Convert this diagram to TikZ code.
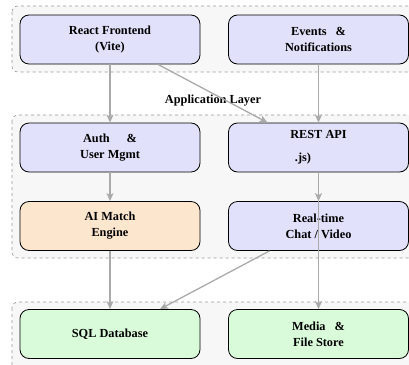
\documentclass[tikz,border=0pt]{standalone}
\usepackage{fontspec}
\setmainfont{Liberation Serif}
\usetikzlibrary{arrows.meta}
\definecolor{svcblue}{HTML}{E1E1FB}
\definecolor{aiorange}{HTML}{FDE6CE}
\definecolor{storegreen}{HTML}{D9FBD9}
\definecolor{layerfill}{HTML}{F7F7F7}
\definecolor{layerline}{HTML}{9A9A9A}
\definecolor{flow}{HTML}{AAAAAA}
\tikzset{
  layer/.style={draw=layerline, fill=layerfill, dashed, line width=0.6pt, rounded corners=6pt},
  box/.style={draw=black, line width=0.8pt, rounded corners=9pt,
    minimum width=180pt, minimum height=49pt, align=center,
    font=\fontsize{12.3}{16}\selectfont\bfseries, inner sep=0pt},
  svc/.style={box, fill=svcblue},
  ai/.style={box, fill=aiorange},
  store/.style={box, fill=storegreen},
  flowline/.style={draw=flow, line width=1.3pt,
    -{Stealth[length=8pt, width=7pt, inset=2pt]}},
  lbl/.style={font=\fontsize{12.3}{15}\selectfont\bfseries}
}
\begin{document}
\begin{tikzpicture}[x=1pt, y=-1pt]
\useasboundingbox (0,0) rectangle (409,364);
\clip (0,0) rectangle (409,364);
% layer backgrounds
\draw[layer] (12,6) rectangle (430,72);
\draw[layer] (12,115) rectangle (430,258);
\draw[layer] (12,302) rectangle (430,400);
\node[lbl] (applbl) at (213,101) {Application Layer};
% components
\node[svc] (react) at (110,39.5) {React Frontend\\(Vite)};
\node[svc] (events) at (318.5,39.5) {Events\hspace{9pt}\&\\Notifications};
\node[svc] (auth) at (110,147.5) {Auth\hspace{17pt}\&\\User Mgmt};
\node[svc] (rest) at (318.5,147.5) {REST API\\[7pt]\hspace*{-31pt}.js)};
\node[ai] (match) at (110,226) {AI Match\\Engine};
\node[svc] (rtc) at (318.5,226) {Real-time\\Chat / Video};
\node[store] (sql) at (110,334) {SQL Database};
\node[store] (media) at (318.5,334) {Media\hspace{9pt}\&\\File Store};
% data flow
\draw[flowline] (react.south) -- (auth.north);
\draw[flowline] ([xshift=48pt]react.south) -- ([xshift=-51pt]rest.north);
\draw[flowline] (events.south) -- (rest.north);
\draw[flowline] (auth.south) -- (match.north);
\draw[flowline] (rest.south) -- (rtc.north);
\draw[flowline] (rest.south) -- (media.north);
\draw[flowline] (match.south) -- (sql.north);
\draw[flowline] ([xshift=-49pt]rtc.south) -- ([xshift=50pt]sql.north);
\end{tikzpicture}
\end{document}
